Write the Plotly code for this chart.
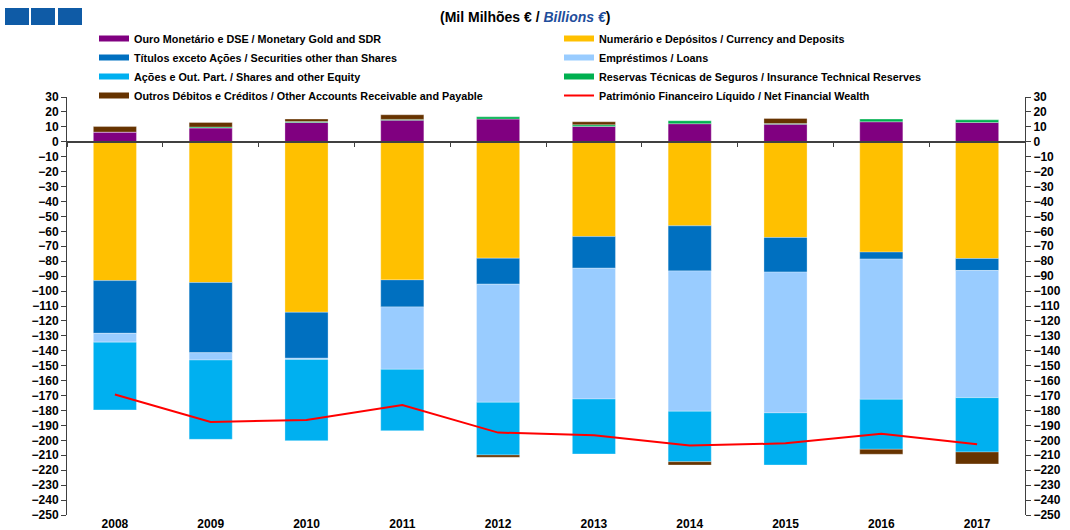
import plotly.graph_objects as go

years = ['2008', '2009', '2010', '2011', '2012', '2013', '2014', '2015', '2016', '2017']
ouro = [6.5, 9.2, 12.9, 14.5, 15.2, 10.3, 12.1, 11.8, 13.4, 12.9]
numerario = [-93.0, -94.3, -114.2, -92.5, -78.0, -63.5, -56.3, -64.1, -73.9, -78.2]
titulos = [-35.3, -47.0, -30.8, -18.1, -17.4, -21.2, -30.2, -23.2, -4.7, -8.0]
emprestimos = [-5.9, -4.9, -0.8, -41.8, -79.1, -87.6, -94.0, -94.3, -93.9, -85.2]
acoes = [-45.4, -53.1, -54.4, -41.1, -35.3, -36.8, -33.8, -34.9, -33.5, -36.4]
reservas = [0.0, 0.7, 0.7, 0.5, 1.5, 1.1, 2.0, 0.4, 1.8, 1.8]
outros = [3.7, 3.0, 1.6, 3.1, -1.5, 2.0, -2.2, 3.4, -3.3, -8.0]
patrimonio = [-169.3, -187.7, -186.3, -176.3, -194.8, -196.6, -203.5, -202.0, -195.5, -202.6]

names = [
    'Ouro Monetário e DSE / Monetary Gold and SDR',
    'Numerário e Depósitos / Currency and Deposits',
    'Títulos exceto Ações / Securities other than Shares',
    'Empréstimos / Loans',
    'Ações e Out. Part. / Shares and other Equity',
    'Reservas Técnicas de Seguros / Insurance Technical Reserves',
    'Outros Débitos e Créditos / Other Accounts Receivable and Payable',
]
series = [ouro, numerario, titulos, emprestimos, acoes, reservas, outros]
colors = ['#800080', '#ffc000', '#0070c0', '#99ccff', '#00b0f0', '#00b050', '#663300']
line_name = 'Património Financeiro Líquido / Net Financial Wealth'

FONT = 'Liberation Sans, Arial, sans-serif'

fig = go.Figure()
for n, s, c in zip(names, series, colors):
    fig.add_trace(go.Bar(
        x=years, y=s, name=n, showlegend=False,
        marker=dict(color=c, line=dict(color='rgba(255,255,255,0.5)', width=0.6)),
        width=0.45,
    ))
# legend entries drawn as wide colour swatches
for n, c in zip(names, colors):
    fig.add_trace(go.Scatter(
        x=[years[0]], y=[None], name=f'<b>{n}</b>', mode='lines',
        line=dict(color=c, width=6), hoverinfo='skip',
    ))
fig.add_trace(go.Scatter(
    x=years, y=patrimonio, name=f'<b>{line_name}</b>', mode='lines',
    line=dict(color='#ff0000', width=2), xaxis='x2', yaxis='y2',
))

YMIN, YMAX = -250, 30
tickfont = dict(family=FONT, size=12, color='#000000')

fig.update_layout(
    width=1070, height=530,
    barmode='relative',
    plot_bgcolor='white', paper_bgcolor='white',
    margin=dict(l=67, r=45, t=97, b=15, autoexpand=False),
    showlegend=True,
    legend=dict(
        orientation='h', xref='container', x=94 / 1070, xanchor='left',
        yref='paper', y=(515 - 24) / 418, yanchor='top',
        entrywidth=420, entrywidthmode='pixels',
        font=dict(family=FONT, size=10.8, color='#000000'),
        itemwidth=30, bgcolor='rgba(0,0,0,0)', tracegroupgap=0,
    ),
    xaxis=dict(
        type='category', range=[-0.5, 9.5], showline=False, ticks='', showgrid=False,
        tickfont=tickfont, zeroline=False, tickprefix='<b>', ticksuffix='</b>',
    ),
    xaxis2=dict(
        type='category', range=[-0.5, 9.5], overlaying='x', anchor='free',
        position=(0 - YMIN) / (YMAX - YMIN), side='bottom',
        showline=True, linecolor='#404040', linewidth=1.5,
        ticks='outside', ticklen=4, tickcolor='#404040', tickson='boundaries',
        showticklabels=False, showgrid=False, zeroline=False,
    ),
    yaxis=dict(
        range=[YMIN, YMAX], dtick=10, tick0=0, showline=True, linecolor='#404040', linewidth=1,
        ticks='outside', ticklen=5, tickcolor='#404040', showgrid=False, zeroline=False,
        tickfont=tickfont, tickprefix='<b>', ticksuffix='</b>',
    ),
    yaxis2=dict(
        range=[YMIN, YMAX], dtick=10, tick0=0, overlaying='y', side='right', anchor='x',
        showline=True, linecolor='#404040', linewidth=1,
        ticks='outside', ticklen=5, tickcolor='#404040', showgrid=False, zeroline=False,
        tickfont=tickfont, tickprefix='<b>', ticksuffix='</b>',
    ),
    annotations=[dict(
        text="<b>(Mil Milhões € / <span style='color:#1f4e9c'><i>Billions €</i></span>)</b>",
        xref='paper', yref='paper', x=(525 - 67) / 958, y=(515 - 17) / 418,
        xanchor='center', yanchor='middle', showarrow=False,
        font=dict(family=FONT, size=14, color='#000000'),
    )],
)

# decorative header squares
for x0 in [5, 31, 58]:
    fig.add_shape(type='rect', xref='paper', yref='paper',
                  x0=(x0 - 67) / 958, x1=(x0 + 24 - 67) / 958,
                  y0=(515 - 25) / 418, y1=(515 - 8) / 418,
                  fillcolor='#0f5ba6', line=dict(width=0))

fig.write_html('out.html', config={'displayModeBar': False},
               post_script="document.body.style.margin='0';document.body.style.padding='0';")
